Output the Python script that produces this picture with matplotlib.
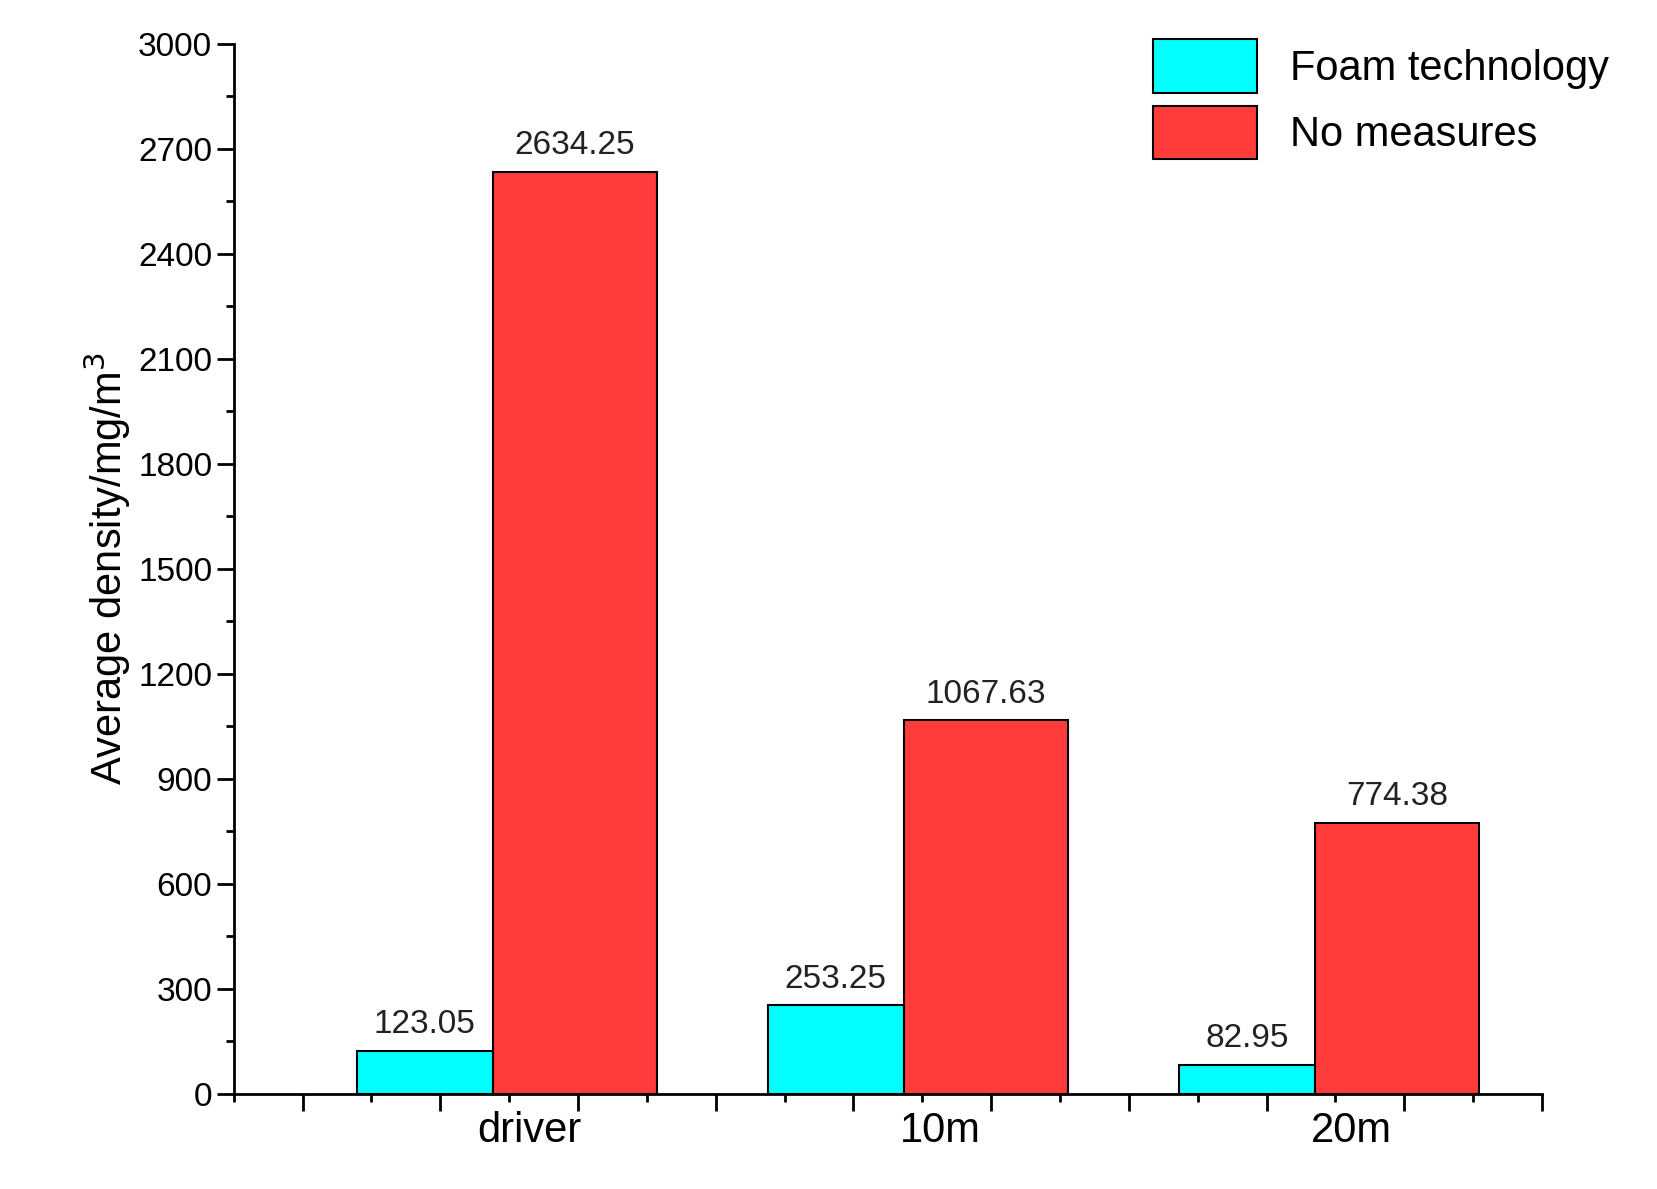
import matplotlib
matplotlib.use("Agg")
import matplotlib.pyplot as plt
from matplotlib.ticker import MultipleLocator

categories = ["driver", "10m", "20m"]
foam = [123.05, 253.25, 82.95]
nomeasure = [2634.25, 1067.63, 774.38]
foam_labels = ["123.05", "253.25", "82.95"]
no_labels = ["2634.25", "1067.63", "774.38"]

plt.rcParams['font.family'] = ['Liberation Sans', 'DejaVu Sans']
fig = plt.figure(figsize=(16.58, 11.89), dpi=100)
ax = fig.add_axes([0.141, 0.08, 0.789, 0.883])

x = [1, 2, 3]
wc, wr = 0.33, 0.40
ax.bar([i - wc / 2 for i in x], foam, width=wc, color='#00FFFF', edgecolor='black', linewidth=1.5)
ax.bar([i + wr / 2 for i in x], nomeasure, width=wr, color='#FF3B3B', edgecolor='black', linewidth=1.5)
for i, v, s in zip(x, foam, foam_labels):
    ax.text(i - wc / 2, v + 30, s, ha='center', va='bottom', fontsize=24, color='#222222')
for i, v, s in zip(x, nomeasure, no_labels):
    ax.text(i + wr / 2, v + 30, s, ha='center', va='bottom', fontsize=24, color='#222222')

ax.set_xlim(0.37, 3.54)
ax.set_ylim(0, 3000)
ax.yaxis.set_major_locator(MultipleLocator(300))
ax.yaxis.set_minor_locator(MultipleLocator(150))
xt0 = 0.37 + 65 / 388
ax.set_xticks([xt0 + k * (130 / 388) for k in range(10)])
ax.set_xticks([xt0 - 65 / 388 + k * (130 / 388) for k in range(10)], minor=True)
ax.set_xticklabels([])
for i, c in zip(x, categories):
    ax.text(i + 0.09, -50, c, ha='center', va='top', fontsize=30, transform=ax.transData)
ax.tick_params(axis='both', which='major', length=12, width=2, direction='out', labelsize=24)
ax.tick_params(axis='both', which='minor', length=6, width=2, direction='out')
for s in ['top', 'right']:
    ax.spines[s].set_visible(False)
for s in ['left', 'bottom']:
    ax.spines[s].set_linewidth(2)
ax.set_ylabel('Average density/mg/m$^3$', fontsize=30)

leg = ax.legend(['Foam technology', 'No measures'], loc='upper right', bbox_to_anchor=(1.08, 1.04),
                fontsize=30, frameon=False, handlelength=2.5, handleheight=1.6, labelspacing=0.3)
fig.savefig('out.png', dpi=100)
